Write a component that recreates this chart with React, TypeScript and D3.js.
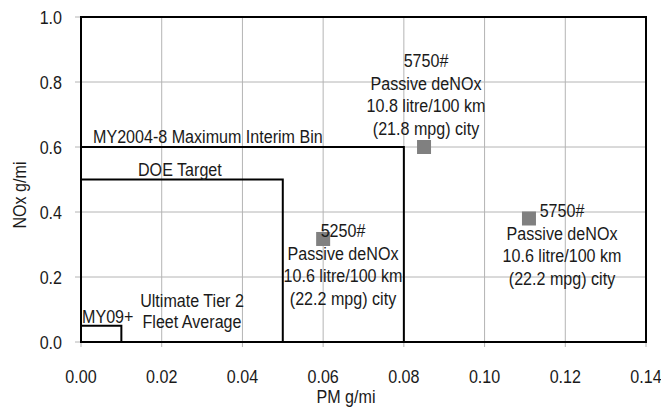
import React from "react";
import * as d3 from "d3";

const xTicks = [0, 0.02, 0.04, 0.06, 0.08, 0.1, 0.12, 0.14];
const yTicks = [0, 0.2, 0.4, 0.6, 0.8, 1.0];

// Limit step outlines: [pm limit, nox limit]
const limitNames = ["MY2004-8 Maximum Interim Bin", "DOE Target", "MY09+"];
const limitPM = [0.08, 0.05, 0.01];
const limitNOx = [0.6, 0.5, 0.05];

// Points
const pointPM = [0.085, 0.06, 0.111];
const pointNOx = [0.6, 0.317, 0.38];
const pointLabels = [
  ["5750#", "Passive deNOx", "10.8 litre/100 km", "(21.8 mpg) city"],
  ["5250#", "Passive deNOx", "10.6 litre/100 km", "(22.2 mpg) city"],
  ["5750#", "Passive deNOx", "10.6 litre/100 km", "(22.2 mpg) city"],
];

const W = 661;
const H = 409;
const FONT = "'Liberation Sans', Arial, sans-serif";
const FS = 18.5;
const SX = 0.87;

function T({ x, y, anchor = "start", rotate = 0, children }: { x: number; y: number; anchor?: string; rotate?: number; children: React.ReactNode }) {
  return (
    <text
      transform={`translate(${x},${y}) rotate(${rotate}) scale(${SX},1)`}
      fontSize={FS}
      textAnchor={anchor}
      fill="#1a1a1a"
    >
      {children}
    </text>
  );
}

export default function App() {
  const x = d3.scaleLinear().domain([0, 0.14]).range([81, 646]);
  const y = d3.scaleLinear().domain([0, 1]).range([342, 17]);
  const line = d3.line<[number, number]>().x((d) => x(d[0])).y((d) => y(d[1]));

  return (
    <svg width={W} height={H} style={{ position: "absolute", left: 0, top: 0, background: "#fff" }} fontFamily={FONT}>
      <rect x={0} y={0} width={W} height={H} fill="#fff" />
      {/* grid */}
      {xTicks.map((t) => (
        <line key={"gx" + t} x1={x(t)} x2={x(t)} y1={y(1)} y2={y(0) + 5} stroke="#b4b4b4" strokeWidth={1} />
      ))}
      {yTicks.map((t) => (
        <line key={"gy" + t} x1={x(0) - 6} x2={x(0.14)} y1={y(t)} y2={y(t)} stroke="#b4b4b4" strokeWidth={1} />
      ))}
      {/* frame */}
      <rect x={x(0)} y={y(1)} width={x(0.14) - x(0)} height={y(0) - y(1)} fill="none" stroke="#000" strokeWidth={2} />
      {/* limits */}
      {limitPM.map((p, i) => (
        <path
          key={"lim" + i}
          d={line([[0, limitNOx[i]], [p, limitNOx[i]], [p, 0]]) || ""}
          fill="none"
          stroke="#000"
          strokeWidth={2}
        />
      ))}
      {/* limit labels */}
      <T x={93} y={y(0.6) - 4}>{limitNames[0]}</T>
      <T x={138} y={y(0.5) - 4}>{limitNames[1]}</T>
      <T x={82} y={y(0.05) - 3}>{limitNames[2]}</T>
      <T x={192} y={307} anchor="middle">Ultimate Tier 2</T>
      <T x={192} y={328} anchor="middle">Fleet Average</T>
      {/* points */}
      {pointPM.map((p, i) => (
        <rect key={"pt" + i} x={x(p) - 7} y={y(pointNOx[i]) - 7} width={14} height={14} fill="#808080" />
      ))}
      {/* point labels */}
      {[
        [426, 67],
        [343, 237],
        [562, 217],
      ].map(([cx, by], i) =>
        pointLabels[i].map((s, j) => (
          <T key={"pl" + i + j} x={cx} y={by + j * 22.7} anchor="middle">
            {s}
          </T>
        ))
      )}
      {/* tick labels */}
      {xTicks.map((t) => (
        <T key={"xl" + t} x={x(t)} y={383} anchor="middle">
          {t.toFixed(2)}
        </T>
      ))}
      {yTicks.map((t) => (
        <T key={"yl" + t} x={62} y={y(t) + 6.5} anchor="end">
          {t.toFixed(1)}
        </T>
      ))}
      <T x={346} y={403} anchor="middle">PM g/mi</T>
      <T x={26} y={195} anchor="middle" rotate={-90}>NOx g/mi</T>
    </svg>
  );
}
